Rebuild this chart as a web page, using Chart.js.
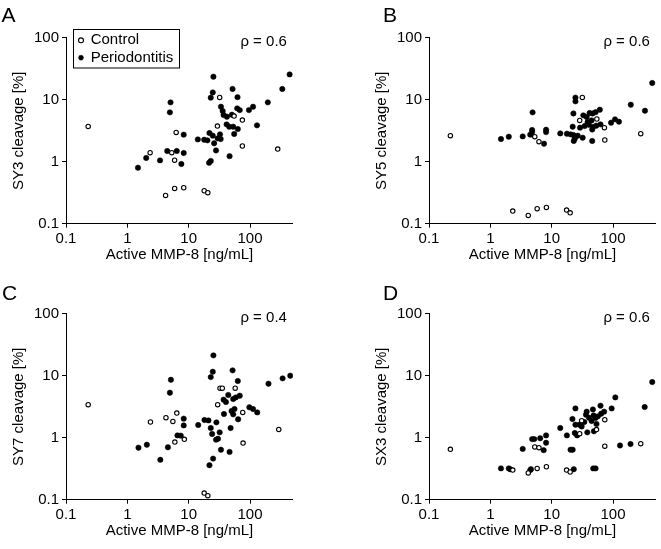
<!DOCTYPE html>
<html>
<head>
<meta charset="utf-8">
<script src="https://cdn.jsdelivr.net/npm/chart.js@4/dist/chart.umd.min.js"></script>
<style>
html,body{margin:0;padding:0;background:#fff;overflow:hidden;width:661px;height:549px;}
canvas{position:absolute;}
.letter{position:absolute;font-family:"Liberation Sans",Arial,sans-serif;font-size:21px;line-height:21px;color:#000;}
</style>
</head>
<body>
<canvas id="cA" width="298" height="273" style="left:0px;top:0px"></canvas>
<canvas id="cB" width="298" height="273" style="left:363px;top:0px"></canvas>
<canvas id="cC" width="298" height="273" style="left:0px;top:276px"></canvas>
<canvas id="cD" width="298" height="273" style="left:363px;top:276px"></canvas>
<div class="letter" style="left:1.5px;top:4px">A</div>
<div class="letter" style="left:383px;top:4px">B</div>
<div class="letter" style="left:2px;top:281.5px">C</div>
<div class="letter" style="left:383px;top:281.5px">D</div>
<script>
// ---- tick and text data ----
const xTicks = [0.1, 1, 10, 100];
const yTicks = [0.1, 1, 10, 100];
const tickLabels = ['0.1', '1', '10', '100'];
const xTitle = 'Active MMP-8 [ng/mL]';
const yTitles = ['SY3 cleavage [%]', 'SY5 cleavage [%]', 'SY7 cleavage [%]', 'SX3 cleavage [%]'];
const rhoLabels = ['ρ = 0.6', 'ρ = 0.6', 'ρ = 0.4', 'ρ = 0.6'];
const seriesNames = ['Control', 'Periodontitis'];

// ---- panel A: SY3 ----
const ctrlA = [[0.23,3.7],[2.35,1.40],[5.3,1.40],[5.9,1.06],[6.25,2.97],[4.2,0.286],[5.9,0.37],[8.3,0.38],
  [17.9,0.34],[20.5,0.316],[29.4,3.76],[32,10.9],[55,5.45],[75,4.7],[75,1.79],[283,1.6]];
const perioA = [[1.49,0.80],[2.03,1.15],[3.41,1.05],[4.47,1.49],[4.94,6.25],[5.06,9.06],[6.4,1.49],[7.6,0.92],
  [8.3,2.73],[8.3,1.38],[14.1,2.29],[17.9,2.26],[20.2,2.21],[21.8,2.9],[25.3,23.5],[442,25.6],[51.9,14.9],
  [24.7,13.1],[336,14.9],[22.9,10.8],[62.5,11.0],[195,9.06],[33.6,7.7],[61.7,7.25],[68,6.8],[112,7.7],[96,6.8],
  [35.8,6.57],[37.1,5.66],[42,5.32],[50.6,5.73],[41.5,4.0],[45.8,3.67],[53.2,3.67],[63.2,3.36],[130,3.86],
  [55.2,2.8],[24.7,2.63],[32.4,2.76],[29.7,2.38],[33.2,2.32],[26,1.98],[27.9,1.52],[46.4,1.23],[21.5,0.96],[22.9,1.03]];

// ---- panel B: SY5 ----
const ctrlB = [[0.223,2.63],[2.32,0.16],[4.15,0.136],[5.8,0.175],[8.2,0.183],[17.5,0.166],[20,0.15],[5.3,2.53],
  [6.2,2.1],[31.6,10.9],[28.6,4.64],[54.5,4.88],[72.4,3.54],[73.4,2.24],[283,2.83]];
const perioB = [[1.49,2.32],[2.0,2.53],[3.37,2.56],[4.47,2.73],[4.88,6.25],[4.8,3.24],[4.8,3.0],[7.5,1.95],
  [8.1,3.28],[8.1,3.0],[13.8,2.86],[17.7,2.83],[20.3,2.76],[22.6,2.69],[23.8,2.35],[26.6,2.63],[22.9,2.16],
  [32,2.44],[22,3.67],[24.4,10.8],[24.4,9.4],[22.6,6.0],[32.8,5.59],[37.2,5.25],[41.5,6.1],[46.5,6.0],[51.9,6.3],
  [61,6.9],[29,3.54],[34.5,3.76],[40.5,3.95],[47,3.63],[53.2,3.81],[62.5,4.0],[45.8,3.3],[45.8,2.16],[38.5,4.36],
  [44.7,4.64],[92.9,4.26],[107.7,4.82],[125,4.42],[195,8.3],[332,6.65],[436,18.6]];

// ---- panel C: SY7 ----
const ctrlC = [[0.23,3.41],[2.38,1.79],[4.26,2.1],[5.52,1.83],[6.4,2.5],[5.95,0.85],[8.5,0.94],[17.9,0.128],
  [20.5,0.116],[29.7,3.41],[32.4,6.3],[35.3,6.3],[57.3,6.3],[76,2.56],[77,0.82],[294,1.36]];
const perioC = [[1.52,0.69],[2.08,0.77],[3.45,0.44],[4.59,0.70],[4.94,5.32],[5.13,8.6],[6.56,1.09],[7.43,1.08],
  [8.3,2.03],[8.3,1.58],[14.3,1.6],[18.1,1.93],[21,1.9],[21.8,0.36],[22.9,1.43],[24.1,1.15],[22.9,9.5],[25.3,21.3],
  [25,0.46],[24.7,11.6],[28.3,1.77],[27.9,0.93],[30,0.96],[32,1.22],[33.6,0.64],[37.6,2.41],[37.1,4.1],[40.5,3.76],
  [44.2,4.88],[48.2,1.43],[46.4,0.59],[50,2.69],[55.8,2.9],[53.2,4.2],[58.7,4.47],[52,12.2],[53.2,2.38],[64,1.98],
  [63.2,8.2],[68,4.76],[97.5,3.09],[112,2.9],[131,2.56],[200,7.43],[340,9.06],[453,10]];

// ---- panel D: SX3 ----
const ctrlD = [[0.223,0.65],[2.32,0.30],[4.15,0.27],[5.8,0.32],[8.2,0.34],[17.5,0.30],[20,0.28],[5.3,0.71],
  [6.2,0.69],[30.8,1.88],[28.6,1.16],[53.8,1.35],[73.4,1.95],[73.4,0.73],[283,0.80]];
const perioD = [[1.49,0.32],[2.0,0.32],[2.1,0.31],[3.37,0.66],[4.47,0.30],[4.6,0.31],[4.8,0.95],[5.2,0.95],
  [6.5,0.98],[7.4,0.63],[8.1,1.09],[8.1,0.83],[13.8,1.43],[17.7,1.09],[20.3,0.64],[22,0.64],[22.9,0.31],[21.8,2.0],
  [24.4,2.97],[23.8,1.19],[26,1.09],[24.4,1.62],[28.3,1.62],[30.8,1.52],[34,1.79],[37.2,2.63],[36.2,2.35],[40.5,2.1],
  [44.7,1.86],[48.2,2.29],[51.9,2.08],[56.6,2.21],[62.5,3.28],[64,2.44],[71.6,2.63],[48.8,1.27],[38.1,1.22],
  [53.8,1.66],[47,2.86],[95,2.97],[109,4.47],[130,0.75],[193,0.79],[328,3.12],[436,7.9],[47.5,0.32],[51.9,0.32]];

const FONT = '"Liberation Sans", Arial, sans-serif';
const font15 = {family: FONT, size: 15};

const panelPlugin = {
  id: 'panelDecor',
  afterLayout(chart) {
    const lg = chart.legend;
    const ca = chart.chartArea;
    if (lg && lg.options && lg.options.display) {
      lg.left = ca.left + 10.4;
      lg.right = lg.left + lg.width;
      lg.top = ca.top - 7.3;
      lg.bottom = lg.top + lg.height;
    }
  },
  afterDraw(chart) {
    const ctx = chart.ctx, ca = chart.chartArea;
    const o = chart.options.plugins.panelDecor || {};
    ctx.save();
    ctx.fillStyle = '#000';
    ctx.font = '15px ' + FONT;
    ctx.textAlign = 'right';
    ctx.textBaseline = 'alphabetic';
    ctx.fillText(o.rho || '', ca.right - 6, ca.top + 7.8);
    if (chart.legend && chart.legend.options.display) {
      ctx.strokeStyle = '#000';
      ctx.lineWidth = 1;
      ctx.strokeRect(ca.left + 7.5, ca.top - 8.2, 106, 38.5);
    }
    ctx.restore();
  }
};

function lookup(ticks, v) {
  const i = ticks.indexOf(v);
  return i >= 0 ? tickLabels[i] : '';
}

function makeChart(id, idx, ctrl, perio, showLegend) {
  return new Chart(document.getElementById(id), {
    type: 'scatter',
    data: {
      datasets: [
        {
          label: seriesNames[0],
          data: ctrl.map(p => ({x: p[0], y: p[1]})),
          pointStyle: 'circle', pointRadius: 2.2, pointBorderWidth: 1.1,
          backgroundColor: '#fff', borderColor: '#000', borderWidth: 1.1,
          pointBackgroundColor: '#fff', pointBorderColor: '#000'
        },
        {
          label: seriesNames[1],
          data: perio.map(p => ({x: p[0], y: p[1]})),
          pointStyle: 'circle', pointRadius: 2.7, pointBorderWidth: 0.5,
          backgroundColor: '#000', borderColor: '#000', borderWidth: 0.5,
          pointBackgroundColor: '#000', pointBorderColor: '#000'
        }
      ]
    },
    options: {
      responsive: false, animation: false, devicePixelRatio: 1, events: [],
      layout: {padding: {left: 0, right: 2, top: 37.7, bottom: 0}},
      plugins: {
        panelDecor: {rho: rhoLabels[idx]},
        tooltip: {enabled: false},
        legend: showLegend ? {
          display: true, position: 'chartArea', align: 'start',
          labels: {usePointStyle: true, boxWidth: 4.4, boxHeight: 3.5, padding: 2.4, color: '#000', font: font15}
        } : {display: false}
      },
      scales: {
        x: {
          type: 'logarithmic', min: 0.1, max: 500,
          afterBuildTicks: s => { s.ticks = xTicks.map(v => ({value: v})); },
          afterFit: s => { s.height = 49.3; },
          ticks: {callback: v => lookup(xTicks, v), color: '#000', font: font15, padding: 2, maxRotation: 0, autoSkip: false},
          grid: {display: true, drawOnChartArea: false, drawTicks: true, tickLength: 4, color: '#000', lineWidth: 1},
          border: {display: true, color: '#000', width: 1},
          title: {display: true, text: xTitle, color: '#000', font: font15, padding: {top: 0, bottom: 9}}
        },
        y: {
          type: 'logarithmic', min: 0.1, max: 100,
          afterBuildTicks: s => { s.ticks = yTicks.map(v => ({value: v})); },
          afterFit: s => { s.width = 66; },
          ticks: {callback: v => lookup(yTicks, v), color: '#000', font: font15, padding: 3, autoSkip: false},
          grid: {display: true, drawOnChartArea: false, drawTicks: true, tickLength: 4, color: '#000', lineWidth: 1},
          border: {display: true, color: '#000', width: 1},
          title: {display: true, text: yTitles[idx], color: '#000', font: font15, padding: {top: 10, bottom: 0}}
        }
      }
    },
    plugins: [panelPlugin]
  });
}

makeChart('cA', 0, ctrlA, perioA, true);
makeChart('cB', 1, ctrlB, perioB, false);
makeChart('cC', 2, ctrlC, perioC, false);
makeChart('cD', 3, ctrlD, perioD, false);
</script>
</body>
</html>
